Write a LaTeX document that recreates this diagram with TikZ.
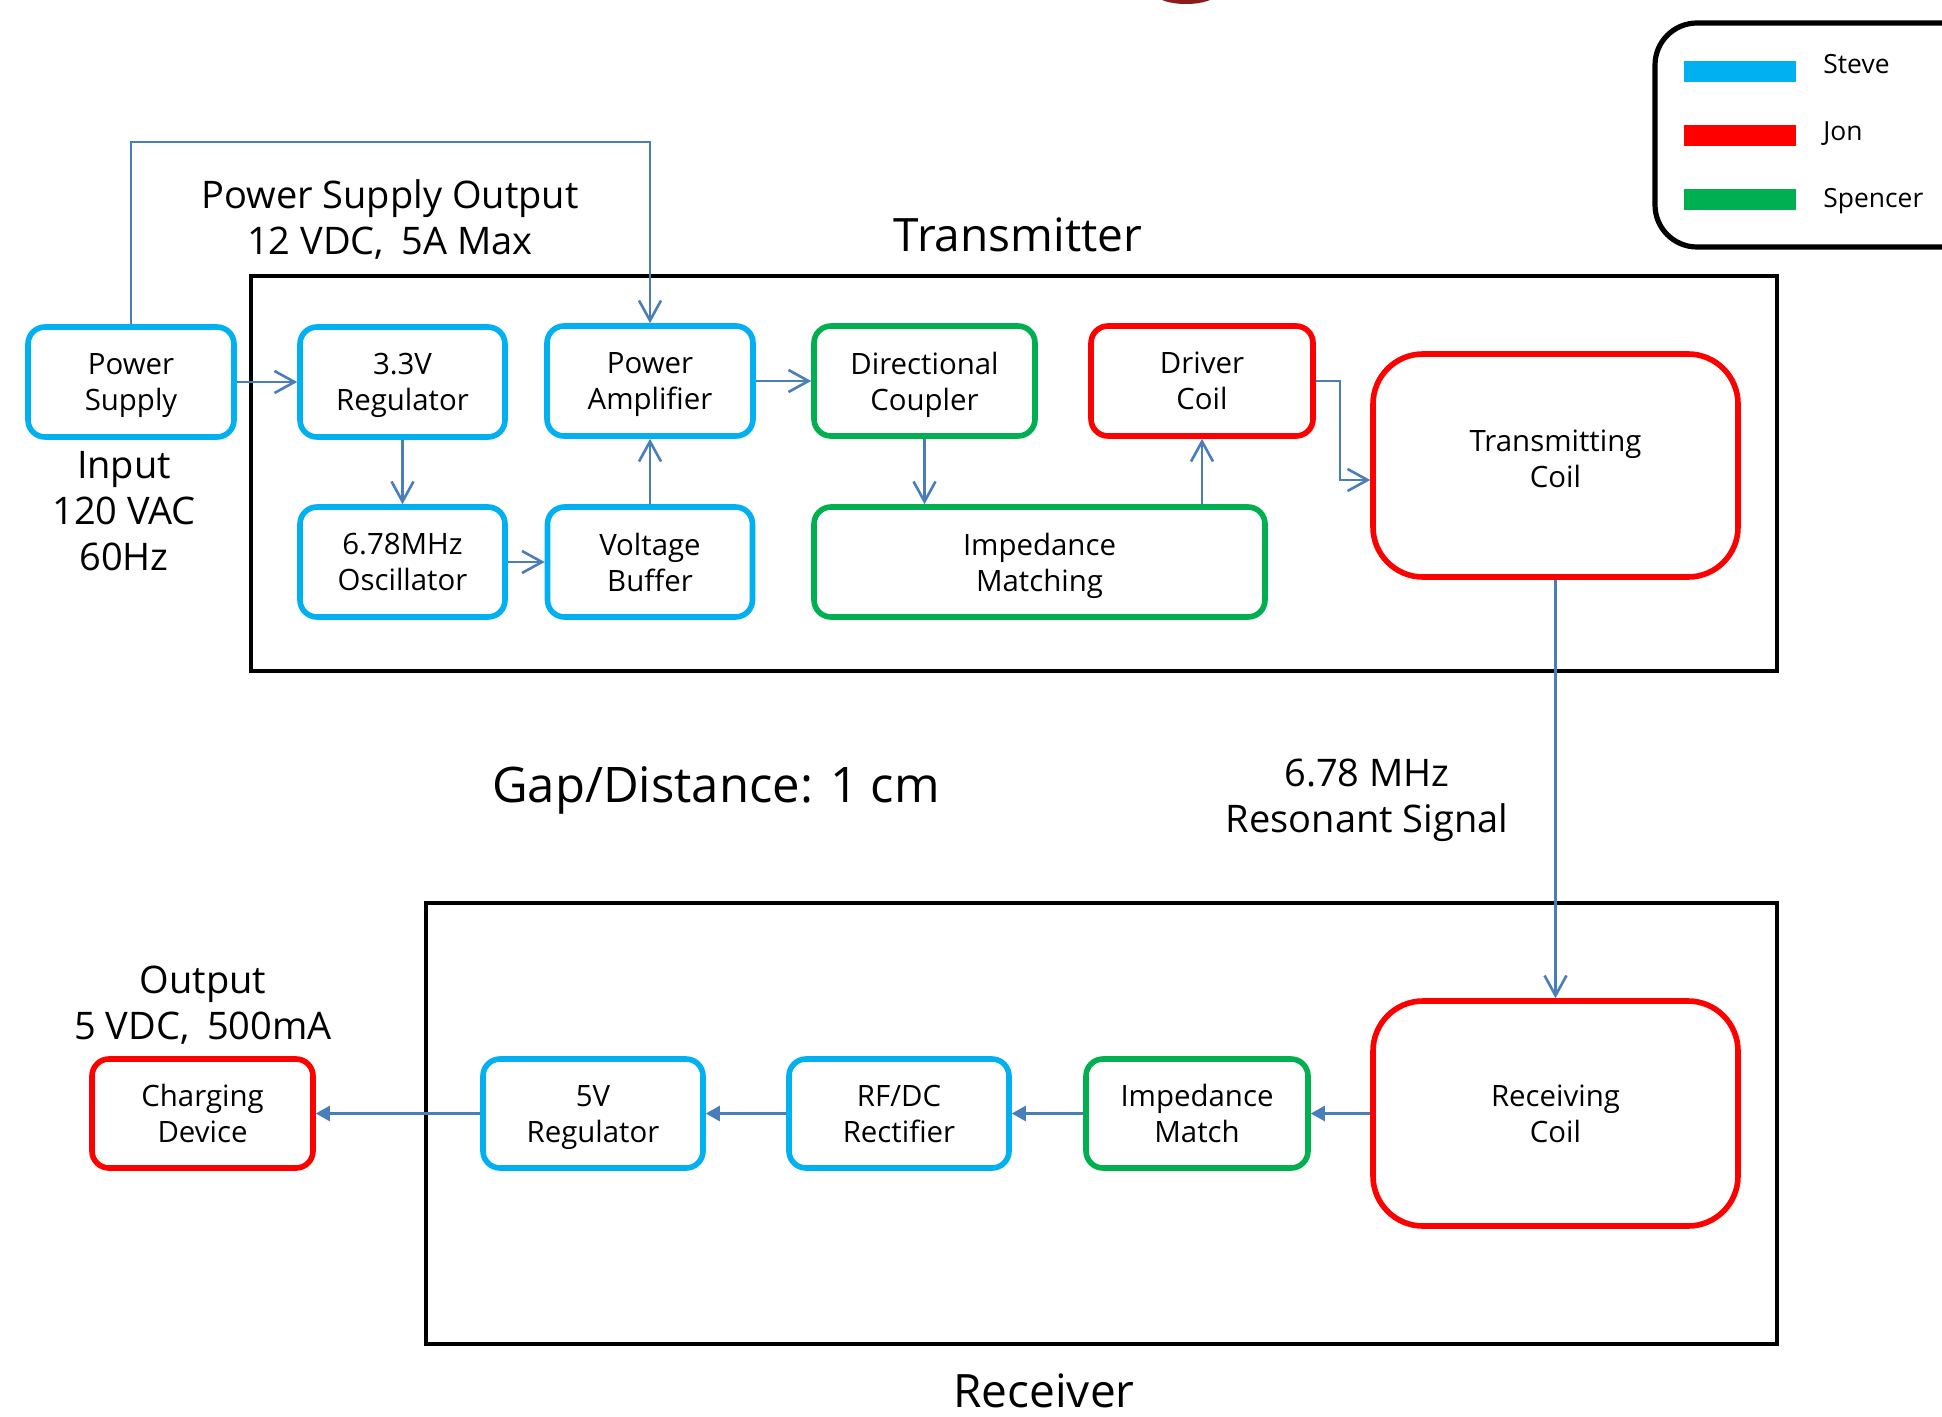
\documentclass[tikz,border=0pt]{standalone}
\usepackage{fontspec}
\setmainfont{Open Sans}
\usetikzlibrary{arrows.meta}
\definecolor{cyanb}{HTML}{00B0F0}
\definecolor{redb}{HTML}{FF0000}
\definecolor{greenb}{HTML}{00B050}
\definecolor{arr}{HTML}{4A7EBB}
\definecolor{topred}{HTML}{8E1B1B}
\newcommand\bxf{\fontsize{14.7}{18}\selectfont}
\newcommand\lblf{\fontsize{19}{23}\selectfont}
\newcommand\ttlf{\fontsize{23}{27}\selectfont}
\newcommand\gapf{\fontsize{24.5}{29}\selectfont}
\newcommand\lgf{\fontsize{13.2}{16}\selectfont}
\tikzset{
  blk/.style={draw=#1, line width=2.8pt, rounded corners=8.5pt, align=center, font=\bxf, inner sep=0pt},
  bigblk/.style={blk=#1, rounded corners=25pt},
  frame/.style={draw=black, line width=2.3pt},
  oa/.style={draw=arr, line width=1.3pt, -{Straight Barb[length=10pt,width=11pt]}},
  fa/.style={draw=arr, line width=1.3pt, -{Triangle[length=7pt,width=7.5pt]}},
  lbl/.style={align=center, font=\lblf, inner sep=0pt},
  lg/.style={anchor=west, font=\lgf, inner sep=0pt}
}
\begin{document}
\begin{tikzpicture}[x=0.5pt,y=-0.5pt]
\useasboundingbox (0,0) rectangle (1942,1417);
\fill[white] (0,0) rectangle (1942,1417);
% partial shape at top
\fill[topred] (1186,-6) ellipse [x radius=15pt, y radius=5pt];
% legend
\draw[line width=2.6pt, rounded corners=21pt] (1655,23) rectangle (2000,247);
\fill[cyanb] (1684,61) rectangle (1796,82);
\fill[redb] (1684,125) rectangle (1796,146);
\fill[greenb] (1684,189) rectangle (1796,210);
\node[lg] (lsteve) at (1823,64) {Steve};
\node[lg] (ljon) at (1823,134) {Jon};
\node[lg] (lspencer) at (1823,201) {Spencer};
% frames
\draw[frame] (251,276) rectangle (1777,671);
\draw[frame] (426,903) rectangle (1777,1344);
\node[font=\ttlf, inner sep=0pt] (ttx) at (1018,235) {Transmitter};
\node[font=\ttlf, inner sep=0pt] (trx) at (1044,1391) {Receiver};
% transmitter blocks
\node[blk=cyanb, minimum width=103pt, minimum height=55pt, text depth=-2.5pt] (ps) at (131,382) {Power\\Supply};
\node[blk=cyanb, minimum width=102.5pt, minimum height=55pt, text depth=-0.3pt] (reg) at (402.5,382) {3.3V\\Regulator};
\node[blk=cyanb, minimum width=103pt, minimum height=55pt, text depth=-0.9pt] (pa) at (650,381) {Power\\Amplifier};
\node[blk=greenb, minimum width=110.5pt, minimum height=55pt, text depth=-0.9pt] (dc) at (924.5,381) {Directional\\Coupler};
\node[blk=redb, minimum width=111pt, minimum height=55pt, text depth=-2.5pt] (drv) at (1202,381) {Driver\\Coil};
\node[bigblk=redb, minimum width=182.5pt, minimum height=111.5pt, text depth=7pt] (tx) at (1555.5,465.5) {Transmitting\\Coil};
\node[blk=cyanb, minimum width=102.5pt, minimum height=55pt] (osc) at (402.5,562) {6.78MHz\\Oscillator};
\node[blk=cyanb, minimum width=102.5pt, minimum height=55pt, text depth=-2pt] (vb) at (650,562) {Voltage\\Buffer};
\node[blk=greenb, minimum width=225.5pt, minimum height=55pt, text depth=-4.5pt] (im) at (1039.5,562) {Impedance\\Matching};
% receiver blocks
\node[blk=redb, minimum width=110.5pt, minimum height=54.5pt, text depth=-6pt] (cd) at (202.5,1113.5) {Charging\\Device};
\node[blk=cyanb, minimum width=110pt, minimum height=54.5pt, text depth=-1.5pt] (r5) at (593,1113.5) {5V\\Regulator};
\node[blk=cyanb, minimum width=110pt, minimum height=54.5pt, text depth=-1.2pt] (rf) at (899,1113.5) {RF/DC\\Rectifier};
\node[blk=greenb, minimum width=111pt, minimum height=54.5pt, text depth=-2.5pt] (imm) at (1197,1113.5) {Impedance\\Match};
\node[bigblk=redb, minimum width=182.5pt, minimum height=112.5pt] (rx) at (1555.5,1113.5) {Receiving\\Coil};
% labels
\node[lbl] (pso) at (390,220) {Power Supply Output\\12 VDC,\hspace{4pt} 5A Max};
\node[lbl] (inp) at (124,511) {Input\\120 VAC\\60Hz};
\node[font=\gapf, inner sep=0pt] (gap) at (716,790) {Gap/Distance: 1 cm};
\node[lbl] (res) at (1367,800) {6.78 MHz\\Resonant Signal};
\node[lbl] (outp) at (203,1005) {Output\\5 VDC,\hspace{4pt} 500mA};
% connectors
\coordinate (c1) at (131,142);
\coordinate (c2) at (650,142);
\draw[oa] (ps.north) -- (c1) -- (c2) -- (pa.north);
\draw[oa] (ps.east) -- (reg.west);
\draw[oa] (reg.south) -- (osc.north);
\draw[oa] (osc.east) -- (vb.west);
\draw[oa] (vb.north) -- (pa.south);
\draw[oa] (pa.east) -- (dc.west);
\draw[oa] (dc.south) -- (dc.south |- im.north);
\draw[oa] (im.north -| drv.south) -- (drv.south);
\coordinate (c3) at (1340,480);
\draw[oa] (drv.east) -| (c3) -- (tx.west |- c3);
\draw[oa] (tx.south) -- (rx.north);
\draw[fa] (rx.west) -- (imm.east);
\draw[fa] (imm.west) -- (rf.east);
\draw[fa] (rf.west) -- (r5.east);
\draw[fa] (r5.west) -- (cd.east);
\end{tikzpicture}
\end{document}
